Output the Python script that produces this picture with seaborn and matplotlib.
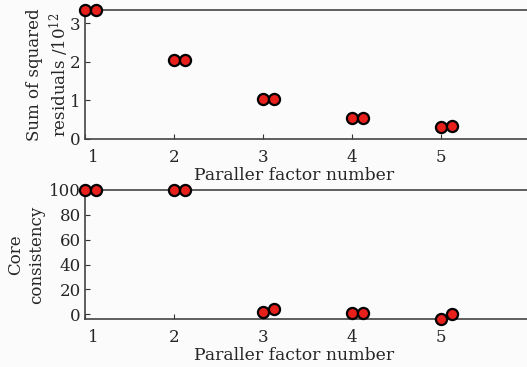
import matplotlib
matplotlib.use("Agg")
import matplotlib.pyplot as plt
import matplotlib.transforms as mtransforms
import seaborn as sns
import pandas as pd

# PARAFAC component count diagnostics, two runs per factor number
factors = [1, 2, 3, 4, 5]
run_offset = [0.0, 0.125]
ssr_run1 = [3.35, 2.06, 1.04, 0.55, 0.31]   # sum of squared residuals / 1e12
ssr_run2 = [3.35, 2.06, 1.04, 0.55, 0.34]
core_run1 = [100, 100, 1.6, 0.8, -4.0]      # core consistency (%)
core_run2 = [100, 100, 4.0, 0.8, 0.0]

sns.set_theme(style="ticks")
plt.rcParams["font.family"] = ["DejaVu Serif"]
plt.rcParams["mathtext.fontset"] = "dejavuserif"

rows = []
for i, f in enumerate(factors):
    rows.append({"x": f + run_offset[0], "ssr": ssr_run1[i], "core": core_run1[i]})
    rows.append({"x": f + run_offset[1], "ssr": ssr_run2[i], "core": core_run2[i]})
df = pd.DataFrame(rows)

fig = plt.figure(figsize=(5.27, 3.67), dpi=100, facecolor="#fbfbfb")
ax1 = fig.add_axes([85 / 527, 1 - 139 / 367, 1 - 85 / 527, 129 / 367])
ax2 = fig.add_axes([85 / 527, 1 - 319 / 367, 1 - 85 / 527, 129 / 367])

mk = dict(marker="o", s=64, color="#e8201c", edgecolor="black",
          linewidth=1.6, clip_on=False, zorder=5, legend=False)

sns.scatterplot(data=df, x="x", y="ssr", ax=ax1, **mk)
sns.scatterplot(data=df, x="x", y="core", ax=ax2, **mk)

ax1.set_ylim(0, 3.35)
ax1.set_yticks([0, 1, 2, 3])
ax2.set_ylim(-3.8, 100)
ax2.set_yticks([0, 20, 40, 60, 80, 100])

fs = 12.0
ax1.set_ylabel("Sum of squared\nresiduals /10$^{12}$", fontsize=fs, linespacing=1.3)
ax2.set_ylabel("Core\nconsistency", fontsize=fs, linespacing=1.3)
ax1.yaxis.set_label_coords(-0.031, 0.5)
ax2.yaxis.set_label_coords(-0.090, 0.5)

for ax in (ax1, ax2):
    ax.set_facecolor("#fbfbfb")
    ax.set_xlim(1, 5.97)
    ax.set_xticks(factors)
    ax.set_xlabel("Paraller factor number", fontsize=fs + 0.4)
    ax.xaxis.set_label_coords(0.473, -0.215)
    ax.tick_params(direction="in", length=3.5, width=0.8, labelsize=fs,
                   color="#333333")
    ax.tick_params(axis="x", pad=7)
    ax.tick_params(axis="y", pad=3)
    for side in ("left", "top", "bottom"):
        ax.spines[side].set_color("#444444")
        ax.spines[side].set_linewidth(1.2)
    ax.spines["right"].set_visible(False)
    # nudge the first x tick label away from the y axis
    lbl = ax.get_xticklabels()[0]
    lbl.set_transform(lbl.get_transform() + mtransforms.ScaledTranslation(8 / 100, 0, fig.dpi_scale_trans))

fig.savefig("out.png", dpi=100, facecolor=fig.get_facecolor())
